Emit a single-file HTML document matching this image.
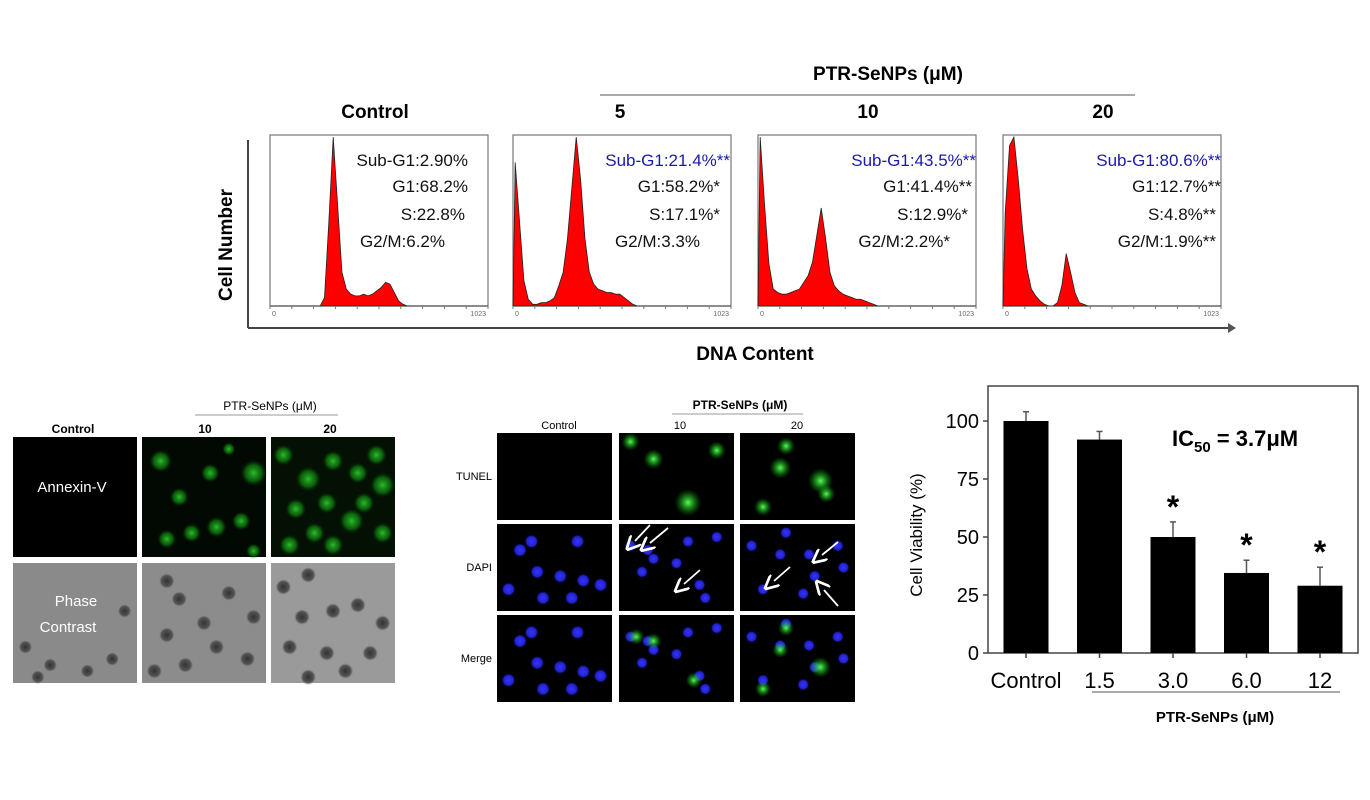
<!DOCTYPE html>
<html><head><meta charset="utf-8"><style>
html,body{margin:0;padding:0;background:#fff;width:1370px;height:800px;overflow:hidden}
svg{display:block}
.c{font-family:"Liberation Sans",sans-serif}
</style></head><body>
<svg id="fig" width="1370" height="800" viewBox="0 0 1370 800" xmlns="http://www.w3.org/2000/svg">
<defs>
<radialGradient id="gg"><stop offset="0" stop-color="#5f5" stop-opacity="1"/><stop offset="1" stop-color="#0a0" stop-opacity="0"/></radialGradient>
<radialGradient id="gr"><stop offset="0" stop-color="#3c3" stop-opacity="0.9"/><stop offset="0.6" stop-color="#1a1" stop-opacity="0.5"/><stop offset="1" stop-color="#010" stop-opacity="0"/></radialGradient>
<radialGradient id="bb"><stop offset="0" stop-color="#33f"/><stop offset="0.7" stop-color="#22c"/><stop offset="1" stop-color="#006" stop-opacity="0"/></radialGradient>
<radialGradient id="dk"><stop offset="0" stop-color="#333"/><stop offset="0.7" stop-color="#555"/><stop offset="1" stop-color="#888" stop-opacity="0"/></radialGradient>
<marker id="arr" markerWidth="8" markerHeight="8" refX="1" refY="4" orient="auto"><path d="M0,0 L8,4 L0,8" fill="none" stroke="#fff" stroke-width="1.5"/></marker>
</defs>

<g id="cc" class="c">
  <text x="888" y="80" font-size="19" font-weight="bold" text-anchor="middle">PTR-SeNPs (μM)</text>
  <line x1="600" y1="95" x2="1135" y2="95" stroke="#777" stroke-width="1.3"/>
  <line x1="248" y1="140" x2="248" y2="328" stroke="#444" stroke-width="2"/>
  <line x1="248" y1="328" x2="1228" y2="328" stroke="#444" stroke-width="2"/>
  <path d="M1228,323 L1236,328 L1228,333 Z" fill="#555"/>
  <text transform="translate(232,245) rotate(-90)" font-size="19" font-weight="bold" text-anchor="middle">Cell Number</text>
  <text x="755" y="360" font-size="19" font-weight="bold" text-anchor="middle">DNA Content</text>
</g>

<g id="annex" class="c"></g>
<g id="tunel" class="c"></g>
<g id="bar" class="c"></g>
</svg>

<script>
const histLabels = ["Control","5","10","20"];
const histControl = [0,0,0,0,0,0,0,0,0,0,0,0,0.05,0.5,1.0,0.6,0.2,0.1,0.07,0.06,0.06,0.07,0.06,0.07,0.09,0.11,0.14,0.13,0.08,0.03,0.01,0,0,0,0,0,0,0,0,0,0,0,0,0,0,0,0,0,0,0];
const hist5 = [0.85,0.5,0.15,0.04,0.01,0.01,0.02,0.02,0.03,0.05,0.12,0.2,0.4,0.7,1.0,0.75,0.4,0.2,0.13,0.1,0.09,0.08,0.08,0.07,0.07,0.05,0.03,0.01,0,0,0,0,0,0,0,0,0,0,0,0,0,0,0,0,0,0,0,0,0,0];
const hist10 = [1.0,0.6,0.25,0.1,0.08,0.07,0.07,0.08,0.09,0.1,0.14,0.18,0.26,0.42,0.58,0.4,0.2,0.12,0.09,0.07,0.06,0.05,0.04,0.04,0.03,0.02,0.01,0,0,0,0,0,0,0,0,0,0,0,0,0,0,0,0,0,0,0,0,0,0,0];
const hist20 = [0.55,0.95,1.0,0.75,0.45,0.22,0.1,0.06,0.03,0.01,0,0,0.02,0.12,0.31,0.2,0.08,0.02,0.01,0,0,0,0,0,0,0,0,0,0,0,0,0,0,0,0,0,0,0,0,0,0,0,0,0,0,0,0,0,0,0];
const histStats = [
 ["Sub-G1:2.90%","G1:68.2%","S:22.8%","G2/M:6.2%"],
 ["Sub-G1:21.4%**","G1:58.2%*","S:17.1%*","G2/M:3.3%"],
 ["Sub-G1:43.5%**","G1:41.4%**","S:12.9%*","G2/M:2.2%*"],
 ["Sub-G1:80.6%**","G1:12.7%**","S:4.8%**","G2/M:1.9%**"]
];
const barCats = ["Control","1.5","3.0","6.0","12"];
const barVals = [100,92,50,34.5,29];
const barErr = [4,3.5,6.5,5.5,8];
const barSig = [false,false,true,true,true];
const yTicks = [0,25,50,75,100];

const NS="http://www.w3.org/2000/svg";
function mk(tag,attrs,parent,txt){const e=document.createElementNS(NS,tag);for(const k in attrs)e.setAttribute(k,attrs[k]);if(txt!==undefined)e.textContent=txt;parent.appendChild(e);return e;}

const cc=document.getElementById('cc');
const hists=[histControl,hist5,hist10,hist20];
const boxX=[270,513,758,1003], boxW=218, boxT=135, boxB=306;
const headX=[375,620,868,1103];
const statX=[[468,468,465,445],[730,720,720,700],[976,972,968,950],[1221,1221,1216,1216]];
hists.forEach((h,i)=>{
  const x0=boxX[i];
  const g=mk('g',{},cc);
  
  
  const hd=mk('text',{x:headX[i],y:118,'font-size':19,'font-weight':'bold','text-anchor':'middle'},g,histLabels[i]);
  
  
  const bx=mk('rect',{x:x0,y:boxT,width:boxW,height:boxB-boxT,fill:'#fff',stroke:'#777','stroke-width':1.2},g);
  
  
  const xs=v=>x0+v/h.length*boxW;
  const ys=v=>boxB-v*(boxB-boxT-2);
  let d='M'+xs(0)+','+boxB;
  h.forEach((v,k)=>{d+=' L'+xs(k+0.5)+','+ys(v);});
  d+=' L'+xs(h.length)+','+boxB+' Z';
  const p=mk('path',{d:d,fill:'#f00',stroke:'#222','stroke-width':0.8},g);
  
  
  for(let t=0;t<=10;t++){mk('line',{x1:x0+t*boxW/10,y1:boxB,x2:x0+t*boxW/10,y2:boxB+3,stroke:'#777'},g);}
  mk('text',{x:x0+2,y:boxB+10,'font-size':7,fill:'#666'},g,'0');
  mk('text',{x:x0+boxW-2,y:boxB+10,'font-size':7,fill:'#666','text-anchor':'end'},g,'1023');
  const ly=[166,192,220,247];
  histStats[i].forEach((s,k)=>{
    const t=mk('text',{x:statX[i][k],y:ly[k],'font-size':17,'text-anchor':'end',fill:(k===0&&i>0)?'#1a1aa8':'#111'},g,s);
    
    
  });
});

function tile(parent,x,y,w,h,bg,name){
  const r=mk('rect',{x:x,y:y,width:w,height:h,fill:bg},parent);
  
  
  return r;
}
function blobs(parent,x,y,w,h,pts,fill,rr){
  pts.forEach(p=>mk('circle',{cx:x+p[0]*w,cy:y+p[1]*h,r:(p[2]||1)*rr,fill:fill},parent));
}
const an=document.getElementById('annex');
mk('text',{x:270,y:410,'font-size':12,'text-anchor':'middle'},an,'PTR-SeNPs (μM)');
mk('line',{x1:195,y1:415,x2:338,y2:415,stroke:'#999'},an);
mk('text',{x:73,y:433,'font-size':12,'font-weight':'bold','text-anchor':'middle'},an,'Control');
mk('text',{x:205,y:433,'font-size':12,'font-weight':'bold','text-anchor':'middle'},an,'10');
mk('text',{x:330,y:433,'font-size':12,'font-weight':'bold','text-anchor':'middle'},an,'20');
tile(an,13,437,124,120,'#000','annexin-control');
tile(an,142,437,124,120,'#020802','annexin-10');
tile(an,271,437,124,120,'#041004','annexin-20');
blobs(an,142,437,124,120,[[.15,.2,1.2],[.3,.5],[.55,.3],[.9,.3,1.4],[.8,.7],[.4,.8],[.6,.75,1.1],[.2,.85],[.7,.1,0.7],[.9,.95,0.8]],'url(#gr)',10);
blobs(an,271,437,124,120,[[.1,.15],[.3,.35,1.2],[.5,.2],[.7,.3],[.9,.4,1.2],[.2,.6],[.45,.55],[.65,.7,1.2],[.9,.8],[.15,.9],[.5,.9],[.85,.15],[.35,.8],[.75,.55]],'url(#gr)',11);
tile(an,13,563,124,120,'#8a8a8a','phase-control');
tile(an,142,563,124,120,'#8c8c8c','phase-10');
tile(an,271,563,124,120,'#9a9a9a','phase-20');
blobs(an,13,563,124,120,[[.1,.7],[.3,.85],[.9,.4],[.8,.8],[.6,.9],[.2,.95]],'url(#dk)',7);
blobs(an,142,563,124,120,[[.2,.15],[.3,.3],[.7,.25],[.9,.45],[.5,.5],[.2,.6],[.6,.7],[.85,.8],[.35,.85],[.1,.9]],'url(#dk)',8);
blobs(an,271,563,124,120,[[.1,.2],[.3,.1],[.25,.45],[.5,.4],[.7,.35],[.9,.5],[.15,.7],[.45,.75],[.8,.75],[.6,.9],[.3,.95]],'url(#dk)',8);
mk('text',{x:72,y:492,'font-size':15,fill:'#fff','text-anchor':'middle'},an,'Annexin-V');
mk('text',{x:76,y:606,'font-size':15,fill:'#fff','text-anchor':'middle'},an,'Phase');
mk('text',{x:68,y:632,'font-size':15,fill:'#fff','text-anchor':'middle'},an,'Contrast');

const tu=document.getElementById('tunel');
mk('text',{x:740,y:409,'font-size':12,'font-weight':'bold','text-anchor':'middle'},tu,'PTR-SeNPs (μM)');
mk('line',{x1:672,y1:414,x2:803,y2:414,stroke:'#999'},tu);
mk('text',{x:559,y:429,'font-size':11,'text-anchor':'middle'},tu,'Control');
mk('text',{x:680,y:429,'font-size':11,'text-anchor':'middle'},tu,'10');
mk('text',{x:797,y:429,'font-size':11,'text-anchor':'middle'},tu,'20');
const tcx=[497,619,740], try_=[433,524,615], rowN=['TUNEL','DAPI','Merge'];
rowN.forEach((n,r)=>{
  mk('text',{x:492,y:try_[r]+47,'font-size':11,'text-anchor':'end'},tu,n);
  tcx.forEach((x,c)=>tile(tu,x,try_[r],115,87,'#000',n.toLowerCase()+'-tile-'+c));
});
blobs(tu,619,433,115,87,[[.1,.1],[.3,.3,1.1],[.6,.8,1.5],[.85,.2]],'url(#gg)',9);
blobs(tu,740,433,115,87,[[.4,.15],[.35,.4,1.2],[.7,.55,1.4],[.2,.85],[.75,.7]],'url(#gg)',9);
const nuc=[[.2,.3],[.3,.2],[.7,.2],[.35,.55],[.55,.6],[.75,.65],[.1,.75],[.4,.85],[.65,.85],[.9,.7]];
[1,2].forEach(r=>{blobs(tu,497,try_[r],115,87,nuc,'url(#bb)',7);blobs(tu,619,try_[r],115,87,[[.1,.25],[.25,.3],[.3,.4],[.6,.2],[.85,.15],[.2,.55],[.7,.7],[.75,.85],[.5,.45]],'url(#bb)',6);blobs(tu,740,try_[r],115,87,[[.4,.1],[.1,.25],[.35,.35],[.6,.35],[.85,.25],[.2,.75],[.65,.6],[.55,.8],[.9,.5]],'url(#bb)',6);});
blobs(tu,619,615,115,87,[[.15,.25],[.3,.3],[.65,.75]],'url(#gg)',8);
blobs(tu,740,615,115,87,[[.4,.15],[.35,.4],[.7,.6,1.3],[.2,.85]],'url(#gg)',8);
[[650,525,635,541],[668,528,650,543],[700,570,684,584],[790,567,774,581],[838,542,822,555],[838,606,824,590]].forEach(a=>{
  const l=mk('line',{x1:a[0],y1:a[1],x2:a[2],y2:a[3],stroke:'#fff','stroke-width':1.8,'marker-end':'url(#arr)'},tu);
  
  
});

const bg=document.getElementById('bar');
const pL=988,pR=1358,pT=386,pB=653;
const yS=v=>pB-v*(pB-421)/100;
const xS=i=>1026+i*73.5;
const frame=mk('rect',{x:pL,y:pT,width:pR-pL,height:pB-pT,fill:'none',stroke:'#444','stroke-width':1.5},bg);


yTicks.forEach(t=>{
  mk('line',{x1:pL-5,y1:yS(t),x2:pL,y2:yS(t),stroke:'#444','stroke-width':1.5},bg);
  const tl=mk('text',{x:pL-9,y:yS(t)+7,'font-size':20,'text-anchor':'end'},bg,String(t));
  
  
});
barCats.forEach((c,i)=>{
  const x=xS(i);
  mk('line',{x1:x,y1:yS(barVals[i]),x2:x,y2:yS(barVals[i]+barErr[i]),stroke:'#555','stroke-width':1.5},bg);
  mk('line',{x1:x-3,y1:yS(barVals[i]+barErr[i]),x2:x+3,y2:yS(barVals[i]+barErr[i]),stroke:'#555','stroke-width':1.5},bg);
  const r=mk('rect',{x:x-22.5,y:yS(barVals[i]),width:45,height:pB-yS(barVals[i]),fill:'#000'},bg);
  
  
  mk('line',{x1:x,y1:pB,x2:x,y2:pB+5,stroke:'#444','stroke-width':1.5},bg);
  const xl=mk('text',{x:x,y:688,'font-size':22,'text-anchor':'middle'},bg,c);
  
  
  if(barSig[i]){
    const s=mk('text',{x:x,y:yS(barVals[i]+barErr[i])-4,'font-size':32,'font-weight':'bold','text-anchor':'middle'},bg,'*');
    
    
  }
});
const yt=mk('text',{transform:'translate(922,535) rotate(-90)','font-size':17,'text-anchor':'middle'},bg,'Cell Viability (%)');


mk('line',{x1:1092,y1:692,x2:1340,y2:692,stroke:'#777','stroke-width':1.2},bg);
const xt=mk('text',{x:1215,y:722,'font-size':15,'font-weight':'bold','text-anchor':'middle'},bg,'PTR-SeNPs (μM)');


const ic=mk('text',{x:1172,y:446,'font-size':22,'font-weight':'bold'},bg);


mk('tspan',{},ic,'IC');
mk('tspan',{'font-size':15,dy:6},ic,'50');
mk('tspan',{dy:-6},ic,' = 3.7μM');
</script>
</body></html>
